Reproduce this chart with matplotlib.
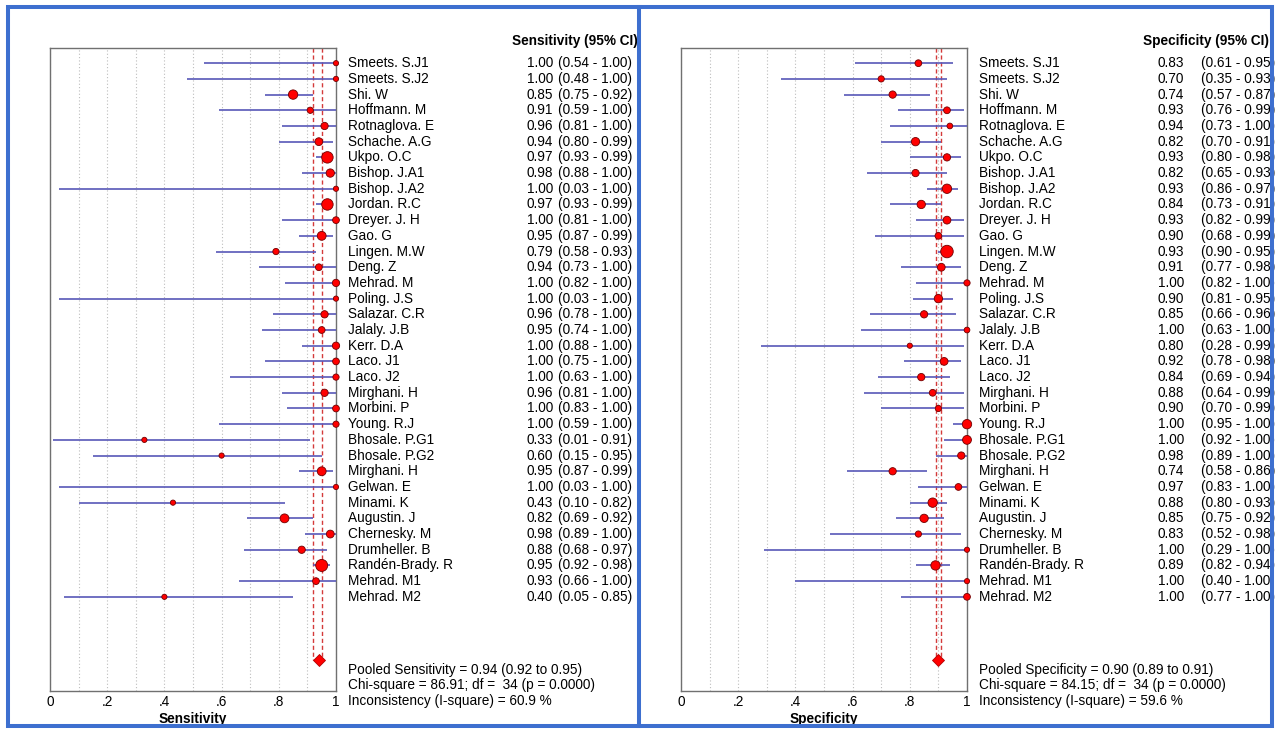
import numpy as np
import matplotlib.pyplot as plt
from matplotlib.patches import Rectangle
from matplotlib.lines import Line2D
import matplotlib.transforms as mtransforms

plt.rcParams['font.family'] = ['Liberation Sans', 'DejaVu Sans']

studies = ["Smeets. S.J1", "Smeets. S.J2", "Shi. W", "Hoffmann. M", "Rotnaglova. E",
           "Schache. A.G", "Ukpo. O.C", "Bishop. J.A1", "Bishop. J.A2", "Jordan. R.C",
           "Dreyer. J. H", "Gao. G", "Lingen. M.W", "Deng. Z", "Mehrad. M",
           "Poling. J.S", "Salazar. C.R", "Jalaly. J.B", "Kerr. D.A", "Laco. J1",
           "Laco. J2", "Mirghani. H", "Morbini. P", "Young. R.J", "Bhosale. P.G1",
           "Bhosale. P.G2", "Mirghani. H", "Gelwan. E", "Minami. K", "Augustin. J",
           "Chernesky. M", "Drumheller. B", "Randén-Brady. R", "Mehrad. M1", "Mehrad. M2"]

sens = [1.00, 1.00, 0.85, 0.91, 0.96, 0.94, 0.97, 0.98, 1.00, 0.97,
        1.00, 0.95, 0.79, 0.94, 1.00, 1.00, 0.96, 0.95, 1.00, 1.00,
        1.00, 0.96, 1.00, 1.00, 0.33, 0.60, 0.95, 1.00, 0.43, 0.82,
        0.98, 0.88, 0.95, 0.93, 0.40]
sens_lo = [0.54, 0.48, 0.75, 0.59, 0.81, 0.80, 0.93, 0.88, 0.03, 0.93,
           0.81, 0.87, 0.58, 0.73, 0.82, 0.03, 0.78, 0.74, 0.88, 0.75,
           0.63, 0.81, 0.83, 0.59, 0.01, 0.15, 0.87, 0.03, 0.10, 0.69,
           0.89, 0.68, 0.92, 0.66, 0.05]
sens_hi = [1.00, 1.00, 0.92, 1.00, 1.00, 0.99, 0.99, 1.00, 1.00, 0.99,
           1.00, 0.99, 0.93, 1.00, 1.00, 1.00, 1.00, 1.00, 1.00, 1.00,
           1.00, 1.00, 1.00, 1.00, 0.91, 0.95, 0.99, 1.00, 0.82, 0.92,
           1.00, 0.97, 0.98, 1.00, 0.85]
sens_weight = [5, 5, 9, 6, 7, 7.5, 11, 8, 5, 11,
               6.5, 8.5, 6, 6.5, 7, 5, 7, 6.5, 7, 6.5,
               6, 7, 6.5, 6, 5, 5, 8.5, 5, 5, 8.5,
               7.5, 7, 11.5, 6.5, 5]

spec = [0.83, 0.70, 0.74, 0.93, 0.94, 0.82, 0.93, 0.82, 0.93, 0.84,
        0.93, 0.90, 0.93, 0.91, 1.00, 0.90, 0.85, 1.00, 0.80, 0.92,
        0.84, 0.88, 0.90, 1.00, 1.00, 0.98, 0.74, 0.97, 0.88, 0.85,
        0.83, 1.00, 0.89, 1.00, 1.00]
spec_lo = [0.61, 0.35, 0.57, 0.76, 0.73, 0.70, 0.80, 0.65, 0.86, 0.73,
           0.82, 0.68, 0.90, 0.77, 0.82, 0.81, 0.66, 0.63, 0.28, 0.78,
           0.69, 0.64, 0.70, 0.95, 0.92, 0.89, 0.58, 0.83, 0.80, 0.75,
           0.52, 0.29, 0.82, 0.40, 0.77]
spec_hi = [0.95, 0.93, 0.87, 0.99, 1.00, 0.91, 0.98, 0.93, 0.97, 0.91,
           0.99, 0.99, 0.95, 0.98, 1.00, 0.95, 0.96, 1.00, 0.99, 0.98,
           0.94, 0.99, 0.99, 1.00, 1.00, 1.00, 0.86, 1.00, 0.93, 0.92,
           0.98, 1.00, 0.94, 1.00, 1.00]
spec_weight = [6.5, 6, 7, 6.5, 5.5, 8, 7, 7, 9, 8,
               7.5, 6.5, 12, 7.5, 6, 8, 7, 5.5, 5, 7.5,
               7, 6.5, 6, 9, 8.5, 7, 7, 6.5, 9, 8,
               6, 5, 9, 5, 6.5]

pooled = {"Sensitivity": (0.94, 0.92, 0.95), "Specificity": (0.90, 0.89, 0.91)}
stats = {
    "Sensitivity": ["Pooled Sensitivity = 0.94 (0.92 to 0.95)",
                    "Chi-square = 86.91; df =  34 (p = 0.0000)",
                    "Inconsistency (I-square) = 60.9 %"],
    "Specificity": ["Pooled Specificity = 0.90 (0.89 to 0.91)",
                    "Chi-square = 84.15; df =  34 (p = 0.0000)",
                    "Inconsistency (I-square) = 59.6 %"],
}
xtick_vals = [0, 0.2, 0.4, 0.6, 0.8, 1.0]
xtick_labels = ["0", ".2", ".4", ".6", ".8", "1"]

W, H = 1276, 729
fig = plt.figure(figsize=(W / 100, H / 100), dpi=100)

FS = 9.8
panels = [("Sensitivity", sens, sens_lo, sens_hi, sens_weight, 50, 222),
          ("Specificity", spec, spec_lo, spec_hi, spec_weight, 681, 234)]

for name, est, lo, hi, wt, x0, ci_off in panels:
    ax = fig.add_axes([x0 / W, 1 - 691 / H, 286 / W, (691 - 47.5) / H])
    rows = np.arange(1, len(studies) + 1)
    pest, plo, phi = pooled[name]

    ax.set_xlim(0, 1)
    ax.set_ylim(41, 0)
    ax.set_yticks([])
    ax.set_xticks(xtick_vals)
    ax.set_xticklabels(xtick_labels, fontsize=FS)
    ax.set_xticks(np.arange(0.1, 1.0, 0.1), minor=True)
    ax.tick_params(axis='x', which='both', length=0, pad=3)
    ax.grid(axis='x', which='both', ls=(0, (1, 2)), color='#bdbdbd', lw=0.8)
    ax.set_axisbelow(True)
    for s in ax.spines.values():
        s.set_color('#707070')
        s.set_linewidth(1.0)
    ax.set_xlabel(name, fontsize=FS, fontweight='bold', labelpad=2)

    ax.vlines([plo, phi], 0, 39, color='#d43a3a', ls=(0, (3, 2)), lw=1.0, zorder=2)
    ax.hlines(rows, lo, hi, color='#5858b8', lw=1.2, zorder=3)
    ms = (np.array(wt) * 0.75) ** 2
    ax.scatter(est, rows, s=ms, color='#ff0000', edgecolors='#700000', linewidths=0.6,
               zorder=4, clip_on=False)
    ax.plot(pest, 39, marker='D', ms=6.5, color='#ff0000', mec='#b00000', mew=0.6,
            zorder=4, clip_on=False)

    tr = mtransforms.blended_transform_factory(ax.transAxes, ax.transData)
    xn = 1 + 12 / 286
    xv = 1 + 217 / 286
    xc = 1 + ci_off / 286
    for r, st, e, l, h in zip(rows, studies, est, lo, hi):
        ax.text(xn, r, st, transform=tr, fontsize=FS, va='center', ha='left', clip_on=False)
        ax.text(xv, r, f"{e:.2f}", transform=tr, fontsize=FS, va='center', ha='right', clip_on=False)
        ax.text(xc, r, f"({l:.2f} - {h:.2f})", transform=tr, fontsize=FS, va='center',
                ha='left', clip_on=False)
    ax.text(1 + 176 / 286, -0.4, f"{name} (95% CI)", transform=tr, fontsize=FS,
            fontweight='bold', va='center', ha='left', clip_on=False)
    for k, line in enumerate(stats[name]):
        ax.text(xn, 39.65 + k * 0.98, line, transform=tr, fontsize=FS, va='center',
                ha='left', clip_on=False)

# blue frame around both panels
blue = '#3d6fcf'
fig.patches.append(Rectangle((8 / W, 1 - 726 / H), (1272 - 8) / W, (726 - 7) / H,
                             transform=fig.transFigure, fill=False, ec=blue, lw=2.9,
                             zorder=10))
fig.lines.append(Line2D([639 / W, 639 / W], [1 - 726 / H, 1 - 7 / H],
                        transform=fig.transFigure, color=blue, lw=2.9, zorder=10))

fig.savefig("out.png", dpi=100, facecolor='white')
